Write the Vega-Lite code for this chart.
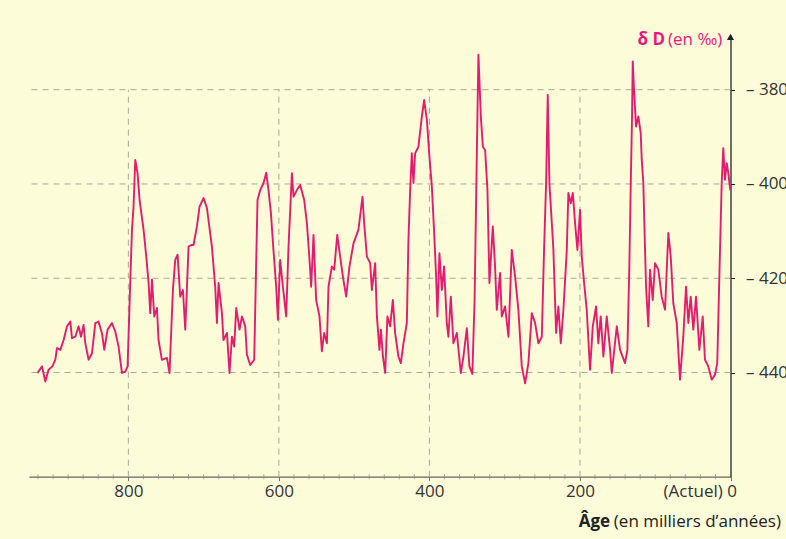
{
  "$schema": "https://vega.github.io/schema/vega-lite/v6.json",
  "width": 701.5,
  "height": 441.7,
  "autosize": {"type": "none"},
  "padding": {"left": 29, "top": 35, "right": 55.5, "bottom": 62.3},
  "background": "#fdfcd9",
  "config": {
    "view": {"stroke": null},
    "font": "Open Sans",
    "axis": {"grid": false, "labelOverlap": false, "labelFlush": false, "labelBound": false}
  },
  "datasets": {
    "hgrid": [{"dD": -380}, {"dD": -400}, {"dD": -420}, {"dD": -440}],
    "vgrid": [{"age": 800}, {"age": 600}, {"age": 400}, {"age": 200}],
    "minor": [{"age":920},{"age":900},{"age":880},{"age":860},{"age":840},{"age":820},{"age":780},{"age":760},{"age":740},{"age":720},{"age":700},{"age":680},{"age":660},{"age":640},{"age":620},{"age":580},{"age":560},{"age":540},{"age":520},{"age":500},{"age":480},{"age":460},{"age":440},{"age":420},{"age":380},{"age":360},{"age":340},{"age":320},{"age":300},{"age":280},{"age":260},{"age":240},{"age":220},{"age":180},{"age":160},{"age":140},{"age":120},{"age":100},{"age":80},{"age":60},{"age":40},{"age":20}],
    "ytitle": [{"t1": "δ D", "t2": "(en ‰)"}],
    "xtitle": [{"t1": "Âge", "t2": "(en milliers d’années)"}],
    "dd": [
      {"age":920.6,"dD":-440.1},{"age":914.7,"dD":-438.7},{"age":910.3,"dD":-441.9},{"age":906.0,"dD":-439.4},{"age":901.0,"dD":-438.7},{"age":897.1,"dD":-437.3},{"age":894.8,"dD":-434.8},{"age":890.4,"dD":-435.2},{"age":886.0,"dD":-433.1},{"age":881.5,"dD":-430.2},{"age":877.1,"dD":-429.2},{"age":874.9,"dD":-432.7},{"age":870.5,"dD":-432.4},{"age":866.1,"dD":-430.2},{"age":862.9,"dD":-432.4},{"age":859.5,"dD":-429.9},{"age":857.2,"dD":-433.8},{"age":852.8,"dD":-437.3},{"age":848.3,"dD":-435.9},{"age":843.9,"dD":-429.5},{"age":839.6,"dD":-429.2},{"age":835.0,"dD":-431.7},{"age":832.0,"dD":-435.2},{"age":827.6,"dD":-430.9},{"age":821.8,"dD":-429.5},{"age":817.4,"dD":-431.3},{"age":813.0,"dD":-434.5},{"age":808.5,"dD":-440.1},{"age":804.1,"dD":-439.8},{"age":801.0,"dD":-438.7},{"age":797.5,"dD":-421.0},{"age":795.2,"dD":-409.7},{"age":793.1,"dD":-404.8},{"age":790.8,"dD":-394.9},{"age":787.8,"dD":-397.7},{"age":785.1,"dD":-403.4},{"age":779.8,"dD":-409.7},{"age":776.2,"dD":-415.4},{"age":773.1,"dD":-421.0},{"age":770.9,"dD":-427.4},{"age":768.6,"dD":-420.3},{"age":765.6,"dD":-428.1},{"age":762.0,"dD":-426.3},{"age":759.9,"dD":-433.1},{"age":755.4,"dD":-437.3},{"age":748.7,"dD":-436.9},{"age":745.3,"dD":-440.1},{"age":740.8,"dD":-422.5},{"age":737.7,"dD":-416.1},{"age":734.6,"dD":-415.0},{"age":731.1,"dD":-423.9},{"age":727.5,"dD":-422.5},{"age":724.4,"dD":-430.9},{"age":720.0,"dD":-413.3},{"age":717.0,"dD":-413.0},{"age":713.4,"dD":-412.9},{"age":708.9,"dD":-409.0},{"age":705.4,"dD":-404.8},{"age":700.1,"dD":-403.0},{"age":695.6,"dD":-405.1},{"age":689.0,"dD":-413.3},{"age":684.6,"dD":-421.8},{"age":682.3,"dD":-429.5},{"age":680.2,"dD":-421.0},{"age":675.7,"dD":-427.4},{"age":673.6,"dD":-433.1},{"age":669.0,"dD":-431.6},{"age":665.6,"dD":-440.1},{"age":662.4,"dD":-432.4},{"age":659.4,"dD":-434.5},{"age":656.7,"dD":-426.3},{"age":652.3,"dD":-430.9},{"age":649.1,"dD":-428.1},{"age":644.7,"dD":-430.2},{"age":642.5,"dD":-436.2},{"age":638.1,"dD":-438.4},{"age":632.8,"dD":-437.3},{"age":630.1,"dD":-416.1},{"age":628.4,"dD":-403.4},{"age":624.8,"dD":-401.3},{"age":620.4,"dD":-399.8},{"age":616.8,"dD":-397.6},{"age":613.8,"dD":-401.3},{"age":610.6,"dD":-406.2},{"age":607.2,"dD":-414.0},{"age":603.6,"dD":-421.8},{"age":601.3,"dD":-428.8},{"age":598.3,"dD":-416.1},{"age":594.7,"dD":-421.8},{"age":590.3,"dD":-428.1},{"age":587.2,"dD":-413.3},{"age":582.7,"dD":-397.7},{"age":580.6,"dD":-402.7},{"age":576.1,"dD":-401.3},{"age":571.7,"dD":-400.2},{"age":566.4,"dD":-403.4},{"age":562.8,"dD":-408.3},{"age":559.3,"dD":-416.1},{"age":557.1,"dD":-421.8},{"age":554.0,"dD":-410.8},{"age":550.5,"dD":-424.6},{"age":546.1,"dD":-428.1},{"age":542.9,"dD":-435.5},{"age":539.8,"dD":-431.6},{"age":536.2,"dD":-433.8},{"age":534.1,"dD":-421.8},{"age":529.6,"dD":-417.5},{"age":526.5,"dD":-418.2},{"age":522.5,"dD":-410.8},{"age":518.6,"dD":-415.4},{"age":515.0,"dD":-419.6},{"age":510.6,"dD":-423.9},{"age":506.2,"dD":-417.5},{"age":500.9,"dD":-412.6},{"age":494.3,"dD":-409.7},{"age":488.9,"dD":-402.7},{"age":486.7,"dD":-408.3},{"age":483.1,"dD":-415.4},{"age":478.7,"dD":-416.8},{"age":476.5,"dD":-422.5},{"age":472.1,"dD":-416.8},{"age":469.8,"dD":-428.1},{"age":466.4,"dD":-435.2},{"age":464.5,"dD":-430.9},{"age":461.8,"dD":-436.6},{"age":458.8,"dD":-440.1},{"age":455.8,"dD":-428.1},{"age":452.2,"dD":-430.2},{"age":448.6,"dD":-424.6},{"age":445.6,"dD":-431.6},{"age":441.2,"dD":-436.6},{"age":438.0,"dD":-438.0},{"age":434.5,"dD":-433.8},{"age":430.0,"dD":-429.5},{"age":427.9,"dD":-411.9},{"age":425.6,"dD":-401.3},{"age":423.4,"dD":-393.5},{"age":421.2,"dD":-399.8},{"age":419.0,"dD":-393.5},{"age":414.6,"dD":-392.1},{"age":410.1,"dD":-385.7},{"age":407.0,"dD":-382.2},{"age":403.4,"dD":-386.4},{"age":400.0,"dD":-394.2},{"age":396.8,"dD":-400.5},{"age":393.7,"dD":-410.4},{"age":391.1,"dD":-419.6},{"age":389.4,"dD":-428.1},{"age":386.7,"dD":-414.7},{"age":383.5,"dD":-422.5},{"age":380.5,"dD":-417.5},{"age":376.9,"dD":-429.5},{"age":374.8,"dD":-432.4},{"age":371.6,"dD":-423.9},{"age":368.1,"dD":-433.8},{"age":363.6,"dD":-431.6},{"age":358.3,"dD":-440.1},{"age":354.8,"dD":-436.6},{"age":350.3,"dD":-430.6},{"age":346.9,"dD":-438.7},{"age":343.0,"dD":-440.3},{"age":340.0,"dD":-424.6},{"age":337.1,"dD":-394.2},{"age":334.9,"dD":-372.6},{"age":331.7,"dD":-385.7},{"age":329.0,"dD":-392.1},{"age":326.0,"dD":-392.8},{"age":322.9,"dD":-401.3},{"age":320.3,"dD":-421.0},{"age":315.8,"dD":-409.0},{"age":312.8,"dD":-417.5},{"age":310.5,"dD":-426.7},{"age":306.1,"dD":-418.9},{"age":303.9,"dD":-428.1},{"age":299.5,"dD":-426.0},{"age":295.0,"dD":-432.4},{"age":290.6,"dD":-414.0},{"age":286.2,"dD":-419.6},{"age":281.8,"dD":-426.7},{"age":277.3,"dD":-438.7},{"age":272.9,"dD":-442.3},{"age":268.5,"dD":-438.0},{"age":264.0,"dD":-427.4},{"age":259.6,"dD":-429.5},{"age":255.2,"dD":-433.8},{"age":250.7,"dD":-432.4},{"age":247.7,"dD":-414.0},{"age":245.0,"dD":-399.8},{"age":242.8,"dD":-381.1},{"age":240.6,"dD":-399.8},{"age":237.4,"dD":-408.3},{"age":235.3,"dD":-414.0},{"age":231.7,"dD":-431.6},{"age":228.7,"dD":-426.0},{"age":225.5,"dD":-433.8},{"age":222.0,"dD":-426.7},{"age":217.5,"dD":-414.0},{"age":215.4,"dD":-401.9},{"age":212.2,"dD":-404.1},{"age":209.5,"dD":-401.9},{"age":206.5,"dD":-408.3},{"age":203.4,"dD":-414.0},{"age":199.9,"dD":-405.5},{"age":197.6,"dD":-415.4},{"age":194.5,"dD":-421.0},{"age":191.0,"dD":-426.7},{"age":186.6,"dD":-439.4},{"age":183.0,"dD":-430.2},{"age":178.6,"dD":-426.0},{"age":175.6,"dD":-433.8},{"age":172.4,"dD":-428.1},{"age":168.9,"dD":-436.6},{"age":164.4,"dD":-428.1},{"age":160.0,"dD":-435.2},{"age":157.7,"dD":-440.1},{"age":151.1,"dD":-430.2},{"age":146.7,"dD":-435.2},{"age":140.1,"dD":-438.0},{"age":137.0,"dD":-435.2},{"age":134.4,"dD":-417.5},{"age":132.5,"dD":-399.8},{"age":130.8,"dD":-385.7},{"age":129.9,"dD":-374.0},{"age":128.2,"dD":-380.0},{"age":125.5,"dD":-387.8},{"age":122.4,"dD":-385.7},{"age":119.3,"dD":-389.2},{"age":117.9,"dD":-394.9},{"age":115.8,"dD":-399.8},{"age":114.5,"dD":-408.3},{"age":112.2,"dD":-421.8},{"age":109.2,"dD":-430.2},{"age":106.9,"dD":-418.2},{"age":103.3,"dD":-424.6},{"age":100.3,"dD":-416.8},{"age":95.9,"dD":-418.2},{"age":91.4,"dD":-423.9},{"age":87.0,"dD":-426.7},{"age":82.6,"dD":-410.4},{"age":79.4,"dD":-415.4},{"age":76.0,"dD":-425.3},{"age":71.4,"dD":-429.5},{"age":67.1,"dD":-441.5},{"age":62.7,"dD":-432.4},{"age":59.1,"dD":-421.8},{"age":56.0,"dD":-429.5},{"age":52.9,"dD":-423.9},{"age":49.4,"dD":-430.9},{"age":45.8,"dD":-423.9},{"age":41.4,"dD":-435.2},{"age":36.9,"dD":-428.1},{"age":33.9,"dD":-437.3},{"age":29.5,"dD":-438.7},{"age":25.0,"dD":-441.5},{"age":20.6,"dD":-440.5},{"age":17.6,"dD":-438.0},{"age":14.9,"dD":-420.3},{"age":11.7,"dD":-399.8},{"age":9.6,"dD":-392.4},{"age":7.3,"dD":-399.1},{"age":5.0,"dD":-395.6},{"age":2.9,"dD":-397.7},{"age":0.3,"dD":-401.3}
    ]
  },
  "layer": [
    {
      "data": {"name": "hgrid"},
      "mark": {"type": "rule", "color": "#a8a79a", "strokeWidth": 1, "strokeDash": [6, 5]},
      "encoding": {
        "y": {"field": "dD", "type": "quantitative", "title": null, "scale": {"domain": [-462.1, -368.4], "nice": false, "zero": false}}
      }
    },
    {
      "data": {"name": "vgrid"},
      "mark": {"type": "rule", "color": "#a8a79a", "strokeWidth": 1, "strokeDash": [6, 5]},
      "encoding": {
        "x": {"field": "age", "type": "quantitative", "title": null, "scale": {"domain": [0, 932], "reverse": true, "nice": false, "zero": false}},
        "y": {"datum": -462.1, "type": "quantitative", "title": null},
        "y2": {"datum": -380}
      }
    },
    {
      "data": {"name": "minor"},
      "mark": {"type": "tick", "orient": "vertical", "color": "#8a8a80", "size": 5, "thickness": 1},
      "encoding": {
        "x": {"field": "age", "type": "quantitative", "title": null},
        "y": {"datum": -462.1, "type": "quantitative", "title": null}
      }
    },
    {
      "data": {"name": "dd"},
      "mark": {"type": "line", "color": "#e31c70", "strokeWidth": 1.9, "strokeJoin": "round"},
      "encoding": {
        "x": {
          "field": "age", "type": "quantitative", "title": null,
          "scale": {"domain": [0, 932], "reverse": true, "nice": false, "zero": false},
          "axis": {
            "orient": "bottom",
            "title": null,
            "values": [800, 600, 400, 200, 0],
            "labelExpr": "datum.value == 0 ? '(Actuel) 0' : datum.label",
            "labelAlign": {"condition": {"test": "datum.value == 0", "value": "right"}, "value": "center"},
            "labelOffset": {"condition": {"test": "datum.value == 0", "value": 6}, "value": 0},
            "labelOverlap": false,
            "labelFlush": false,
            "labelFont": "Open Sans",
            "labelFontSize": 17,
            "labelColor": "#333333",
            "labelPadding": 3,
            "tickSize": 4,
            "tickColor": "#777770",
            "domainColor": "#666660",
            "domainWidth": 1.2
          }
        },
        "y": {
          "field": "dD", "type": "quantitative", "title": null,
          "scale": {"domain": [-462.1, -368.4], "nice": false, "zero": false},
          "axis": {
            "orient": "right",
            "title": null,
            "values": [-380, -400, -420, -440],
            "labelExpr": "'– ' + format(abs(datum.value), 'd')",
            "labelFont": "Open Sans",
            "labelFontSize": 17,
            "labelColor": "#333333",
            "labelPadding": 11,
            "tickSize": 4,
            "tickColor": "#222222",
            "domainColor": "#222222",
            "domainWidth": 1.3
          }
        }
      }
    },
    {
      "data": {"values": [{"k": 1}]},
      "mark": {"type": "point", "shape": "triangle-up", "filled": true, "color": "#222222", "size": 50, "opacity": 1},
      "encoding": {
        "x": {"datum": 0, "type": "quantitative", "title": null},
        "y": {"datum": -368.8, "type": "quantitative", "title": null}
      }
    },
    {
      "data": {"name": "ytitle"},
      "mark": {"type": "text", "align": "right", "baseline": "middle", "font": "Open Sans", "fontSize": 17, "fontWeight": "bold", "color": "#e8197a"},
      "encoding": {
        "x": {"datum": 87, "type": "quantitative", "title": null},
        "y": {"datum": -369.4, "type": "quantitative", "title": null},
        "text": {"field": "t1"}
      }
    },
    {
      "data": {"name": "ytitle"},
      "mark": {"type": "text", "align": "left", "baseline": "middle", "font": "Open Sans", "fontSize": 17, "color": "#e8197a"},
      "encoding": {
        "x": {"datum": 83, "type": "quantitative", "title": null},
        "y": {"datum": -369.4, "type": "quantitative", "title": null},
        "text": {"field": "t2"}
      }
    },
    {
      "data": {"name": "xtitle"},
      "mark": {"type": "text", "align": "right", "baseline": "middle", "font": "Open Sans", "fontSize": 17, "fontWeight": "bold", "color": "#222222"},
      "encoding": {
        "x": {"datum": 160, "type": "quantitative", "title": null},
        "y": {"datum": -471.7, "type": "quantitative", "title": null},
        "text": {"field": "t1"}
      }
    },
    {
      "data": {"name": "xtitle"},
      "mark": {"type": "text", "align": "left", "baseline": "middle", "font": "Open Sans", "fontSize": 17, "color": "#222222"},
      "encoding": {
        "x": {"datum": 155, "type": "quantitative", "title": null},
        "y": {"datum": -471.7, "type": "quantitative", "title": null},
        "text": {"field": "t2"}
      }
    }
  ]
}
